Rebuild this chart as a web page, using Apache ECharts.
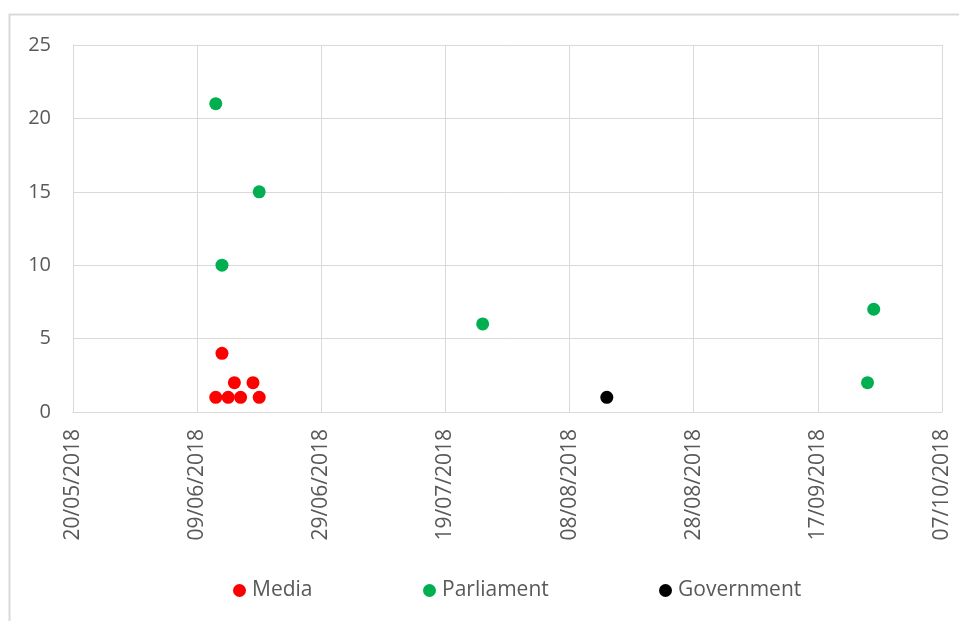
<!DOCTYPE html>
<html>
<head>
<meta charset="utf-8">
<script src="https://cdn.jsdelivr.net/npm/echarts@6/dist/echarts.min.js"></script>
<style>html,body{margin:0;padding:0;background:#fff}#c{width:959px;height:621px}</style>
</head>
<body>
<div id="c"></div>
<script>
// Data (dates as dd/mm/yyyy, values)
var mediaDates = ['12/06/2018','13/06/2018','14/06/2018','15/06/2018','16/06/2018','18/06/2018','19/06/2018'];
var mediaValues = [1, 4, 1, 2, 1, 2, 1];
var parliamentDates = ['12/06/2018','13/06/2018','19/06/2018','25/07/2018','25/09/2018','26/09/2018'];
var parliamentValues = [21, 10, 15, 6, 2, 7];
var governmentDates = ['14/08/2018'];
var governmentValues = [1];
var xMinDate = '20/05/2018';
var xMaxDate = '07/10/2018';
var xStepDays = 20;
var yMin = 0, yMax = 25, yStep = 5;

function toSerial(s){
  var p = s.split('/');
  return Math.round((Date.UTC(+p[2], +p[1]-1, +p[0]) - Date.UTC(1899, 11, 30)) / 86400000);
}
function fromSerial(n){
  var d = new Date(Date.UTC(1899, 11, 30) + n * 86400000);
  var dd = ('0' + d.getUTCDate()).slice(-2), mm = ('0' + (d.getUTCMonth()+1)).slice(-2);
  return dd + '/' + mm + '/' + d.getUTCFullYear();
}
function pairs(dates, vals){ return dates.map(function(d,i){ return [toSerial(d), vals[i]]; }); }

var FONT = '"Open Sans", "Noto Sans", sans-serif';
var TXT = '#595959';
var GRID = '#d9d9d9';

var chart = echarts.init(document.getElementById('c'));
function leg(name, left){
  return {data:[name], left:left, top:580, padding:0, icon:'circle', itemWidth:13, itemHeight:13, itemGap:0,
    textStyle:{fontFamily:FONT, fontSize:21, color:TXT, padding:[0,0,0,1]}, selectedMode:false};
}
chart.setOption({
  backgroundColor:'#fff',
  animation:false,
  graphic:[{type:'rect', shape:{x:9.5, y:14.5, width:1000, height:1000}, style:{fill:'none', stroke:GRID, lineWidth:2}, silent:true}],
  grid:{left:73, right:17, top:45, bottom:209, containLabel:false},
  legend:[leg('Media', 233), leg('Parliament', 423), leg('Government', 659)],
  xAxis:{type:'value', min:toSerial(xMinDate), max:toSerial(xMaxDate), interval:xStepDays,
    axisLine:{show:true, lineStyle:{color:GRID, width:1}}, axisTick:{show:false},
    splitLine:{show:true, lineStyle:{color:GRID, width:1}},
    axisLabel:{rotate:90, margin:17, formatter:function(v){return fromSerial(v);}, fontFamily:FONT, fontSize:21, color:TXT}},
  yAxis:{type:'value', min:yMin, max:yMax, interval:yStep,
    axisLine:{show:true, lineStyle:{color:GRID, width:1}}, axisTick:{show:false},
    splitLine:{show:true, lineStyle:{color:GRID, width:1}},
    axisLabel:{margin:22, fontFamily:FONT, fontSize:20, color:TXT}},
  series:[
    {name:'Media', type:'scatter', symbolSize:13, itemStyle:{color:'#ff0000', opacity:1}, data:pairs(mediaDates, mediaValues)},
    {name:'Parliament', type:'scatter', symbolSize:13, itemStyle:{color:'#00b050', opacity:1}, data:pairs(parliamentDates, parliamentValues)},
    {name:'Government', type:'scatter', symbolSize:13, itemStyle:{color:'#000000', opacity:1}, data:pairs(governmentDates, governmentValues)}
  ]
});
</script>
</body>
</html>
